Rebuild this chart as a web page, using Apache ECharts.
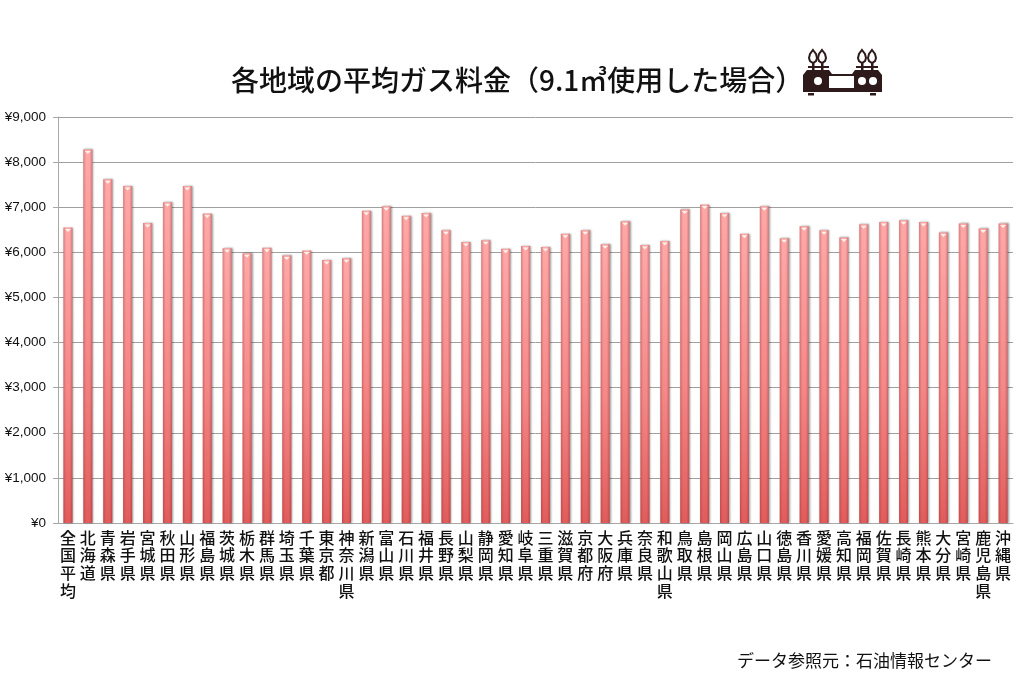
<!DOCTYPE html>
<html lang="ja">
<head>
<meta charset="utf-8">
<title>各地域の平均ガス料金</title>
<style>
  html, body { margin: 0; padding: 0; background: #fff; }
  #chart { width: 1024px; height: 681px; }
</style>
<script src="https://cdn.jsdelivr.net/npm/echarts@6/dist/echarts.min.js"></script>
</head>
<body>
<div id="chart"></div>
<script>
const titleText = '各地域の平均ガス料金（9.1㎥使用した場合）';
const sourceText = 'データ参照元：石油情報センター';

const regions = [
  '全国平均', '北海道', '青森県', '岩手県', '宮城県', '秋田県', '山形県', '福島県',
  '茨城県', '栃木県', '群馬県', '埼玉県', '千葉県', '東京都', '神奈川県', '新潟県',
  '富山県', '石川県', '福井県', '長野県', '山梨県', '静岡県', '愛知県', '岐阜県',
  '三重県', '滋賀県', '京都府', '大阪府', '兵庫県', '奈良県', '和歌山県', '鳥取県',
  '島根県', '岡山県', '広島県', '山口県', '徳島県', '香川県', '愛媛県', '高知県',
  '福岡県', '佐賀県', '長崎県', '熊本県', '大分県', '宮崎県', '鹿児島県', '沖縄県',
];
const gasPrices = [
  6550, 8280, 7620, 7470, 6650, 7110, 7470, 6860,
  6090, 5980, 6100, 5930, 6040, 5830, 5870, 6920,
  7020, 6810, 6870, 6490, 6230, 6270, 6080, 6140,
  6120, 6410, 6490, 6180, 6690, 6160, 6250, 6950,
  7060, 6870, 6410, 7020, 6310, 6580, 6490, 6330,
  6620, 6670, 6710, 6670, 6440, 6640, 6530, 6640,
];

const latinFont = '"Liberation Sans", Arial, sans-serif';
const jpFont = '"Noto Sans CJK JP", sans-serif';
const ink = '#111';
const stove = '#2e1a1a';

// コンロのアイコン（飾り）
function flame(cx) {
  return {
    type: 'polygon',
    shape: {
      points: [[cx, 50], [cx + 3, 54], [cx + 4, 58], [cx + 3, 61], [cx, 63], [cx - 3, 61], [cx - 4, 58], [cx - 3, 54]],
    },
    style: { fill: '#fff', stroke: stove, lineWidth: 2 },
  };
}
function trivet(x) {
  return { type: 'rect', shape: { x, y: 63, width: 2.5, height: 9 }, style: { fill: stove } };
}
function stoveIcon() {
  return {
    type: 'group',
    silent: true,
    children: [
      {
        type: 'polygon',
        shape: {
          points: [[803, 75], [807, 70], [829, 70], [832, 74], [852, 74], [855, 70], [878, 70], [882, 75], [882, 92], [803, 92]],
        },
        style: { fill: stove },
      },
      { type: 'rect', shape: { x: 808, y: 66, width: 21, height: 2 }, style: { fill: stove } },
      { type: 'rect', shape: { x: 856, y: 66, width: 22, height: 2 }, style: { fill: stove } },
      { type: 'rect', shape: { x: 829, y: 76, width: 25, height: 12 }, style: { fill: '#fff' } },
      { type: 'circle', shape: { cx: 818, cy: 81, r: 4 }, style: { fill: '#fff' } },
      { type: 'circle', shape: { cx: 862, cy: 81, r: 4 }, style: { fill: '#fff' } },
      { type: 'circle', shape: { cx: 873, cy: 81, r: 4 }, style: { fill: '#fff' } },
      { type: 'rect', shape: { x: 808, y: 93, width: 6, height: 2.5 }, style: { fill: stove } },
      { type: 'rect', shape: { x: 870, y: 93, width: 6, height: 2.5 }, style: { fill: stove } },
      flame(813), flame(822), flame(862), flame(872),
      trivet(812), trivet(821), trivet(861), trivet(871),
    ],
  };
}

const chart = echarts.init(document.getElementById('chart'));
chart.setOption({
  animation: false,
  backgroundColor: '#fff',
  title: [
    {
      text: titleText,
      left: 226,
      top: 61,
      textStyle: { fontFamily: jpFont, fontSize: 28, fontWeight: 500, color: ink },
    },
    {
      text: sourceText,
      left: 732,
      top: 647,
      textStyle: { fontFamily: jpFont, fontSize: 17, fontWeight: 400, color: ink },
    },
  ],
  grid: { left: 58, right: 11, top: 117, bottom: 158 },
  xAxis: {
    type: 'category',
    data: regions,
    axisLine: { lineStyle: { color: '#a8a8a8', width: 1 } },
    axisTick: { length: 5, lineStyle: { color: '#a8a8a8' } },
    axisLabel: {
      interval: 0,
      margin: 6,
      fontFamily: jpFont,
      fontSize: 16,
      fontWeight: 500,
      lineHeight: 17.6,
      color: ink,
      formatter: (name) => name.split('').join('\n'),
    },
  },
  yAxis: {
    type: 'value',
    min: 0,
    max: 9000,
    interval: 1000,
    axisLine: { show: true, lineStyle: { color: '#a8a8a8', width: 1 } },
    axisTick: { show: true, length: 5, lineStyle: { color: '#a8a8a8' } },
    axisLabel: {
      margin: 12,
      fontFamily: latinFont,
      fontSize: 13.5,
      color: ink,
      formatter: (v) => '¥' + v.toLocaleString('en-US'),
    },
    splitLine: { lineStyle: { color: '#a0a0a0', width: 1 } },
  },
  series: [
    {
      type: 'bar',
      data: gasPrices,
      barWidth: 9,
      itemStyle: {
        color: {
          type: 'linear', x: 0, y: 0, x2: 0, y2: 1,
          colorStops: [
            { offset: 0, color: '#ffa8a8' },
            { offset: 0.55, color: '#f58787' },
            { offset: 1, color: '#e15c5c' },
          ],
        },
        shadowColor: 'rgba(0,0,0,0.4)',
        shadowBlur: 2,
        shadowOffsetX: 1,
        shadowOffsetY: 0,
      },
    },
    {
      // 棒の左右の陰影
      type: 'bar',
      data: gasPrices,
      barWidth: 9,
      barGap: '-100%',
      silent: true,
      itemStyle: {
        color: {
          type: 'linear', x: 0, y: 0, x2: 1, y2: 0,
          colorStops: [
            { offset: 0, color: 'rgba(120,30,30,0.3)' },
            { offset: 0.3, color: 'rgba(120,30,30,0)' },
            { offset: 0.7, color: 'rgba(120,30,30,0)' },
            { offset: 1, color: 'rgba(120,30,30,0.35)' },
          ],
        },
      },
    },
    {
      // 棒の上端のハイライト
      type: 'scatter',
      data: gasPrices,
      symbol: 'triangle',
      symbolRotate: 180,
      symbolSize: [6, 3],
      symbolOffset: [0, 3],
      silent: true,
      itemStyle: { color: '#fff4ec', opacity: 0.95 },
    },
  ],
  graphic: [stoveIcon()],
});
window.addEventListener('resize', () => chart.resize());
</script>
</body>
</html>
